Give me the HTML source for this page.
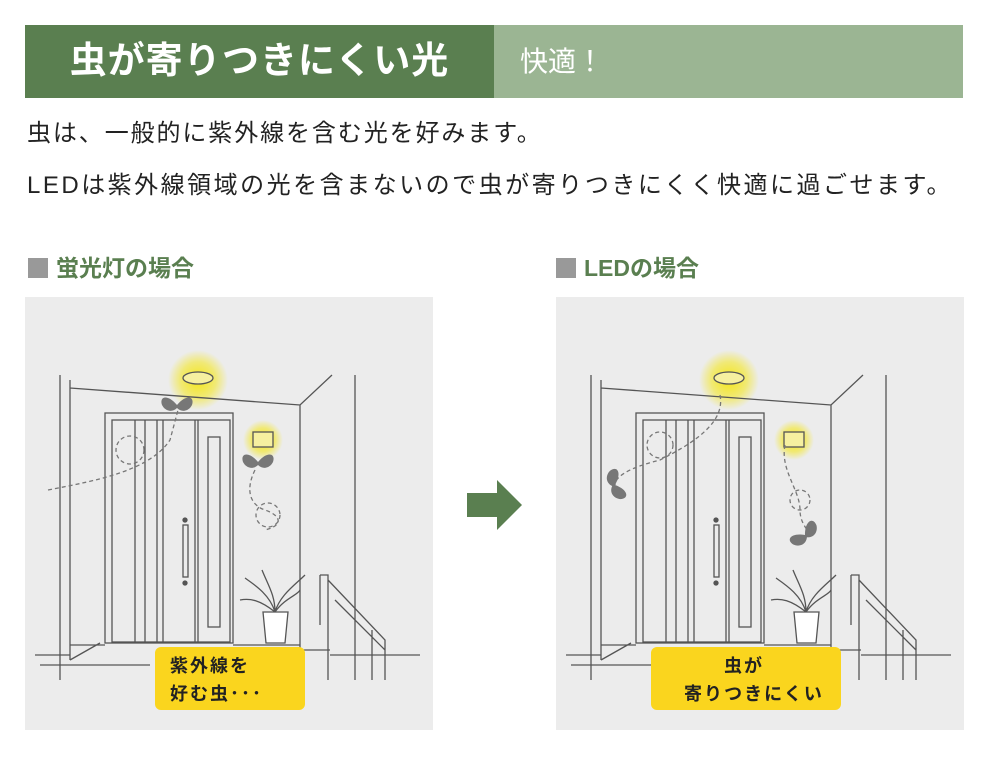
<!DOCTYPE html>
<html><head><meta charset="utf-8"><style>
body{margin:0;width:1000px;height:768px;background:#fff;position:relative;overflow:hidden;font-family:"Liberation Sans","Noto Sans CJK JP",sans-serif;}
.a{position:absolute;}
</style></head><body>
<div class="a" style="left:25px;top:25px;width:469px;height:73px;background:#5a7f50;"></div>
<div class="a" style="left:494px;top:25px;width:469px;height:73px;background:#9bb593;"></div>
<div class="a" style="left:25px;top:36px;width:469px;text-align:center;color:#fff;font-weight:bold;font-size:37px;letter-spacing:1px;line-height:50px;">虫が寄りつきにくい光</div>
<div class="a" style="left:520px;top:38px;color:#fff;font-size:28px;line-height:48px;">快適！</div>
<div class="a" style="left:27px;top:119px;font-size:24px;letter-spacing:1.9px;color:#222;line-height:30px;">虫は、一般的に紫外線を含む光を好みます。</div>
<div class="a" style="left:27px;top:171px;font-size:24px;letter-spacing:2.5px;color:#222;line-height:30px;white-space:nowrap;">LEDは紫外線領域の光を含まないので虫が寄りつきにくく快適に過ごせます。</div>
<div class="a" style="left:28px;top:258px;width:20px;height:20px;background:#999;"></div>
<div class="a" style="left:56px;top:252px;font-size:23px;font-weight:bold;color:#5a7f50;line-height:32px;">蛍光灯の場合</div>
<div class="a" style="left:556px;top:258px;width:20px;height:20px;background:#999;"></div>
<div class="a" style="left:584px;top:252px;font-size:23px;font-weight:bold;color:#5a7f50;line-height:32px;">LEDの場合</div>
<svg class="a" style="left:0;top:0" width="1000" height="768">
<defs>
<radialGradient id="g"><stop offset="0" stop-color="#f5e600" stop-opacity=".9"/><stop offset=".6" stop-color="#f5e600" stop-opacity=".5"/><stop offset="1" stop-color="#f5e600" stop-opacity="0"/></radialGradient>
<g id="scene" fill="none" stroke="#555" stroke-width="1.3">
<rect x="25" y="297" width="408" height="433" fill="#ececec" stroke="none"/>
<circle cx="198" cy="380" r="30" fill="url(#g)" stroke="none"/>
<circle cx="263" cy="440" r="20" fill="url(#g)" stroke="none"/>
<ellipse cx="198" cy="378" rx="15" ry="6" fill="#f6f0a0"/>
<rect x="253" y="432" width="20" height="15" fill="#f6f0a0"/>
<path d="M60 375V680M70 380V660M70 388L300 405L332 375M300 405V650M355 375V680"/>
<rect x="105" y="413" width="128" height="230"/>
<rect x="112" y="420" width="118" height="222"/>
<path d="M135 420V642M145 420V642M157 420V642M163 420V642M195 420V642M198 420V642"/>
<rect x="208" y="437" width="12" height="190"/>
<rect x="183" y="525" width="5" height="52"/>
<circle cx="185" cy="520" r="2" fill="#555"/><circle cx="185" cy="583" r="2" fill="#555"/>
<path d="M70 645H105M233 645H300M35 655H70M70 660L100 643M40 665H150M300 650H330M330 655H420"/>
<path d="M263 612H288L285 643H266Z" fill="#fff"/>
<path d="M275 612C270 595 255 585 245 578M275 612C280 595 295 585 305 575M275 612C275 595 268 585 262 570M275 612C285 598 298 595 300 590M275 612C260 600 250 598 240 600"/>
<path d="M320 575H328V680M320 575V625M328 580L385 640V680M335 600L385 650M372 630V680"/>
</g>
<g id="fly" fill="#777"><path d="M0 0C-9 -11 -18 -9 -15 0C-12 6 -5 8 0 3C5 8 12 6 15 0C18 -9 9 -11 0 0Z"/></g>
</defs>
<use href="#scene"/>
<use href="#scene" x="531"/>
<g fill="none" stroke="#777" stroke-width="1.3" stroke-dasharray="4 3">
<path d="M48 490C100 480 150 470 170 440L178 410"/>
<circle cx="130" cy="450" r="14"/>
<path d="M255 470C245 490 250 505 265 510C280 515 285 525 265 530"/>
<circle cx="268" cy="515" r="12"/>
<path d="M720 395C725 420 700 440 660 460C620 470 615 480 615 485"/>
<circle cx="660" cy="445" r="13"/>
<path d="M785 445C780 470 800 490 800 510C800 525 810 530 808 535"/>
<circle cx="800" cy="500" r="10"/>
</g>
<use href="#fly" x="177" y="405"/>
<use href="#fly" x="258" y="462"/>
<use href="#fly" transform="translate(615,485) rotate(70)"/>
<use href="#fly" transform="translate(805,535) rotate(-40)"/>
<path d="M467 493H497V480L522 505L497 530V517H467Z" fill="#5a7f50"/>
<rect x="155" y="647" width="150" height="63" rx="6" fill="#fad51e"/>
<rect x="651" y="647" width="190" height="63" rx="6" fill="#fad51e"/>
<g font-family="Liberation Sans,Noto Sans CJK JP,sans-serif" font-weight="bold" font-size="18" fill="#222">
<text x="170" y="672" letter-spacing="2">紫外線を</text>
<text x="170" y="700" letter-spacing="2">好む虫･･･</text>
<text x="724" y="672" letter-spacing="2">虫が</text>
<text x="684" y="700" letter-spacing="2">寄りつきにくい</text>
</g>
</svg>
</body></html>
